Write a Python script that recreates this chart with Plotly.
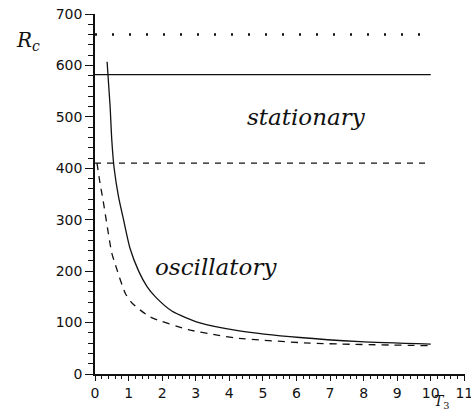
import plotly.graph_objects as go

# Data
T_solid = [0.36, 0.45, 0.5, 0.57, 0.7, 0.85, 1.04, 1.3, 1.55, 1.8, 2.3, 3.1, 4.3, 6.1, 7.9, 10]
R_solid = [607, 520, 455, 400, 345, 300, 245, 200, 170, 150, 122, 100, 84, 71, 63, 58]

T_dash = [0.06, 0.15, 0.24, 0.5, 0.6, 0.9, 1.1, 1.64, 2.8, 3.6, 4.2, 6.4, 10]
R_dash = [410, 371, 338, 235, 214, 157, 138, 111, 86, 76, 70, 60, 55]

T_hline = [0, 10]
R_dotted = [660, 660]
R_solid_h = [582, 582]
R_dashed_h = [410, 410]

x_ticks = list(range(0, 12))
y_ticks = list(range(0, 800, 100))

fig = go.Figure()
line_col = "#111111"
fig.add_trace(go.Scatter(x=T_hline, y=R_dotted, mode="lines",
                         line=dict(color=line_col, width=2.6, dash="2px,15px")))
fig.add_trace(go.Scatter(x=T_hline, y=R_solid_h, mode="lines",
                         line=dict(color=line_col, width=1.3)))
fig.add_trace(go.Scatter(x=T_hline, y=R_dashed_h, mode="lines",
                         line=dict(color=line_col, width=1.3, dash="6px,6px")))
fig.add_trace(go.Scatter(x=T_solid, y=R_solid, mode="lines",
                         line=dict(color=line_col, width=1.3, shape="spline", smoothing=0.6)))
fig.add_trace(go.Scatter(x=T_dash, y=R_dash, mode="lines",
                         line=dict(color=line_col, width=1.3, dash="7px,6px", shape="spline", smoothing=0.6)))

tickfont = dict(family="DejaVu Sans", size=14, color="#111111")
fig.update_xaxes(range=[0, 11.02], tickvals=x_ticks, ticks="outside", ticklen=5, tickwidth=1.3,
                 tickcolor=line_col, showline=True, linecolor=line_col, linewidth=1.6,
                 showgrid=False, zeroline=False, tickfont=tickfont, automargin=False,
                 ticklabeloverflow="allow",
                 minor=dict(dtick=0.2, ticks="outside", ticklen=3, tickwidth=1, tickcolor=line_col, showgrid=False))
fig.update_yaxes(range=[0, 700], tickvals=y_ticks, ticks="outside", ticklen=8, tickwidth=1.3,
                 tickcolor=line_col, showline=True, linecolor=line_col, linewidth=1.6,
                 showgrid=False, zeroline=False, tickfont=tickfont, automargin=False,
                 minor=dict(dtick=20, ticks="outside", ticklen=5, tickwidth=1, tickcolor=line_col, showgrid=False))

serif = "DejaVu Serif"
fig.add_annotation(x=6.3, y=500, text="<i>stationary</i>", showarrow=False,
                   xanchor="center", yanchor="middle",
                   font=dict(family=serif, size=23, color="#111111"))
fig.add_annotation(x=3.6, y=208, text="<i>oscillatory</i>", showarrow=False,
                   xanchor="center", yanchor="middle",
                   font=dict(family=serif, size=23, color="#111111"))
fig.add_annotation(xref="paper", yref="paper", x=-0.18, y=0.925, text="<i>R<sub>c</sub></i>",
                   showarrow=False, xanchor="center", yanchor="middle",
                   font=dict(family=serif, size=20, color="#111111"))
fig.add_annotation(xref="paper", yref="paper", x=0.937, y=-0.078, text="<i>T</i><sub>3</sub>",
                   showarrow=False, xanchor="center", yanchor="middle",
                   font=dict(family=serif, size=14, color="#111111"))

fig.update_layout(width=471, height=411, margin=dict(l=95, r=6, t=14, b=37),
                  plot_bgcolor="white", paper_bgcolor="white", showlegend=False)

fig.write_html("out.html", config={"displayModeBar": False},
               post_script="document.body.style.margin='0';")
